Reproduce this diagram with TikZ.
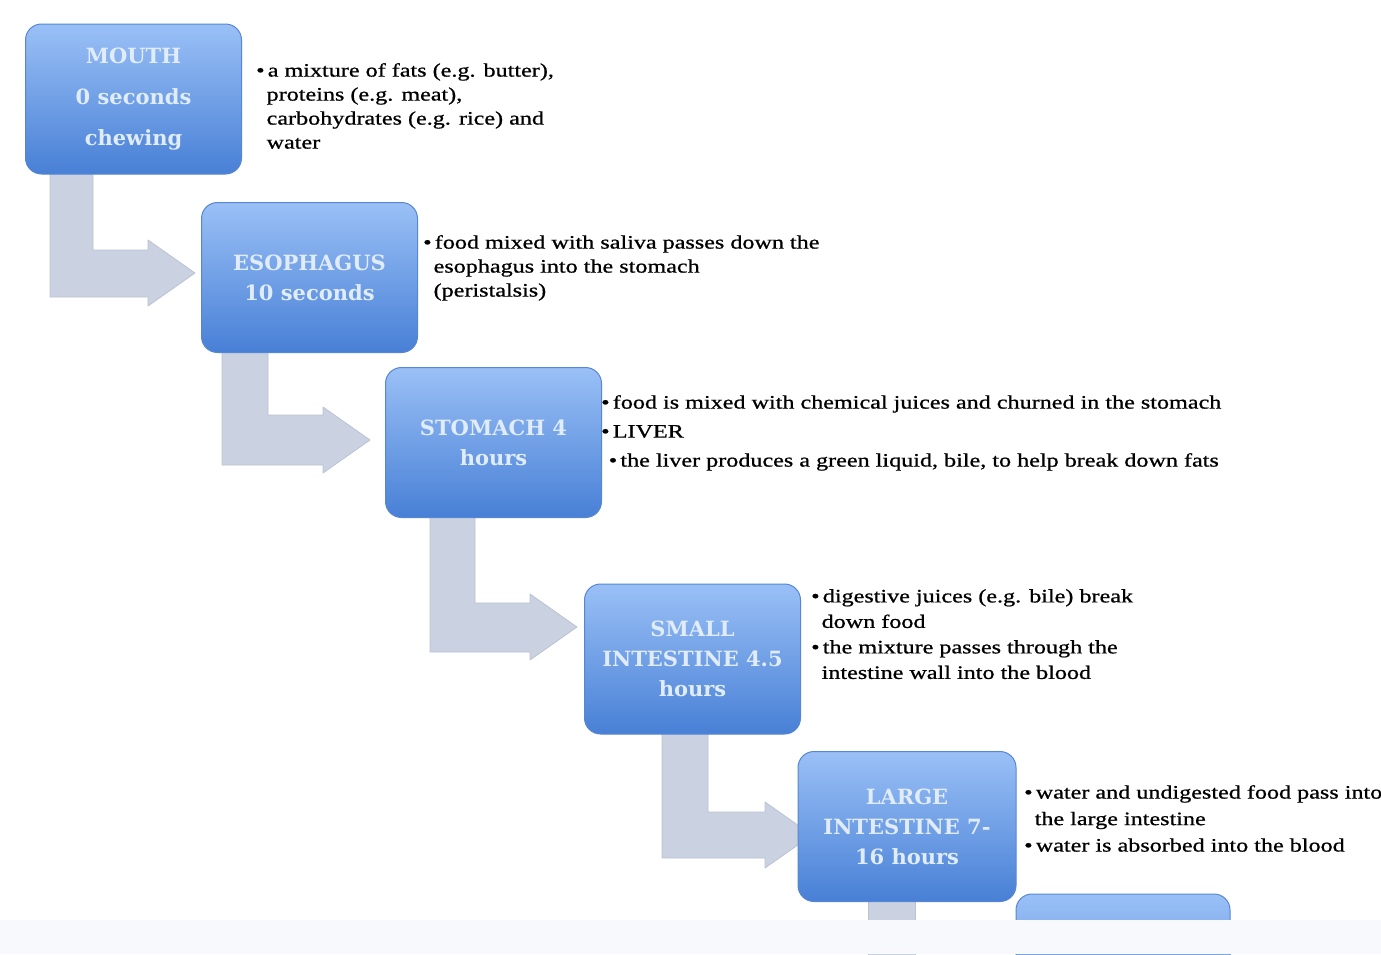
\documentclass[tikz,border=0pt]{standalone}
\usepackage{fontspec}
\setmainfont{Liberation Serif}
\newfontfamily\boxfont{DejaVu Serif}
\newfontfamily\descfont[FakeStretch=1.27,FakeBold=0.8]{Liberation Serif}
\definecolor{boxtop}{HTML}{9AC0F6}
\definecolor{boxbot}{HTML}{4880D6}
\definecolor{boxedge}{HTML}{5786D2}
\definecolor{boxtext}{HTML}{E1ECFA}
\definecolor{arrowfill}{HTML}{CAD2E1}
\definecolor{arrowedge}{HTML}{BAC3D4}
\definecolor{strip}{HTML}{F7F9FC}
\newcommand\hangin{\hspace*{0.55em}}
\tikzset{
  stage/.style={rounded corners=16pt, draw=boxedge, line width=1pt,
    top color=boxtop, bottom color=boxbot, minimum width=216pt,
    minimum height=150pt, align=center, text=boxtext, inner sep=0pt,
    font=\boxfont\bfseries\fontsize{21}{30}\selectfont},
  desc/.style={anchor=north west, align=left, inner sep=0pt, text=black,
    font=\descfont\fontsize{19}{24}\selectfont},
  bendarrow/.style={fill=arrowfill, draw=arrowedge, line width=0.8pt, line join=round}
}
\begin{document}
\begin{tikzpicture}[x=1pt,y=-1pt]
\useasboundingbox (0,0) rectangle (1381,954);
\clip (0,0) rectangle (1381,954);
\fill[white] (0,0) rectangle (1381,954);
% bent arrows
\draw[bendarrow] (50,170) -- (93,170) -- (93,250) -- (148,250) -- (148,240) -- (195,273) -- (148,306) -- (148,297) -- (50,297) -- cycle;
\draw[bendarrow] (222,350) -- (268,350) -- (268,415) -- (323,415) -- (323,407) -- (370,440) -- (323,473) -- (323,465) -- (222,465) -- cycle;
\draw[bendarrow] (430,515) -- (475,515) -- (475,603) -- (530,603) -- (530,594) -- (577,627) -- (530,660) -- (530,652) -- (430,652) -- cycle;
\draw[bendarrow] (662,733) -- (708,733) -- (708,812) -- (765,812) -- (765,802) -- (812,835) -- (765,868) -- (765,858) -- (662,858) -- cycle;
\draw[bendarrow] (868,900) -- (915,900) -- (915,960) -- (868,960) -- cycle;
% stages
\node[stage, font=\boxfont\bfseries\fontsize{21}{41}\selectfont] (mouth) at (133.5,99) {MOUTH\\0 seconds\\chewing};
\node[stage] (esoph) at (309.5,277.5) {ESOPHAGUS\\10 seconds};
\node[stage] (stom) at (493.5,442.5) {STOMACH 4\\hours};
\node[stage] (small) at (692.5,659) {SMALL\\INTESTINE 4.5\\hours};
\node[stage, minimum width=218pt] (large) at (907,826.5) {LARGE\\INTESTINE 7-\\16 hours};
\node[stage, minimum width=214pt] (next) at (1123,969) {};
% descriptions
\node[desc] (dmouth) at (256,63) {\textbullet\,a mixture of fats (e.g. butter),\\\hangin proteins (e.g. meat),\\\hangin carbohydrates (e.g. rice) and\\\hangin water};
\node[desc] (desoph) at (423,235) {\textbullet\,food mixed with saliva passes down the\\\hangin esophagus into the stomach\\\hangin (peristalsis)};
\node[desc, font=\descfont\fontsize{19}{29}\selectfont] (dstom) at (601,395) {\textbullet\,food is mixed with chemical juices and churned in the stomach\\\textbullet\,LIVER\\\hspace*{0.4em}\textbullet\,the liver produces a green liquid, bile, to help break down fats};
\node[desc, font=\descfont\fontsize{19}{25.5}\selectfont] (dsmall) at (811,589) {\textbullet\,digestive juices (e.g. bile) break\\\hangin down food\\\textbullet\,the mixture passes through the\\\hangin intestine wall into the blood};
\node[desc, font=\descfont\fontsize{19}{26.5}\selectfont] (dlarge) at (1024,785) {\textbullet\,water and undigested food pass into\\\hangin the large intestine\\\textbullet\,water is absorbed into the blood};
% bottom strip
\fill[strip] (0,920) rectangle (1381,954);
\end{tikzpicture}
\end{document}
